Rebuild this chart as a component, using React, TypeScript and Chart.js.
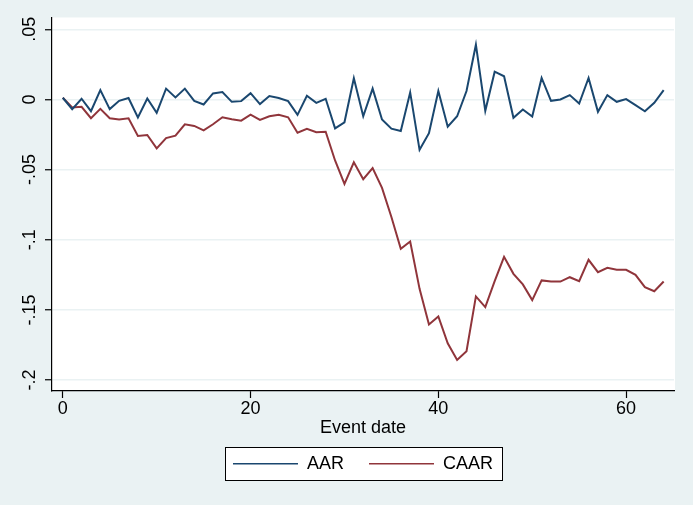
import { useEffect, useRef } from 'react'
import { Chart, registerables } from 'chart.js'

Chart.register(...registerables)

// event window, day 0..64
const eventDates = [
  0, 1, 2, 3, 4, 5, 6, 7, 8, 9, 10, 11, 12, 13, 14, 15, 16, 17, 18, 19, 20, 21,
  22, 23, 24, 25, 26, 27, 28, 29, 30, 31, 32, 33, 34, 35, 36, 37, 38, 39, 40, 41,
  42, 43, 44, 45, 46, 47, 48, 49, 50, 51, 52, 53, 54, 55, 56, 57, 58, 59, 60, 61,
  62, 63, 64,
]

const aar = [
  0.0012, -0.0069, 0.0005, -0.0084, 0.0067, -0.0069, -0.001, 0.001, -0.0129, 0.0007,
  -0.0096, 0.0077, 0.0014, 0.0077, -0.001, -0.0036, 0.0043, 0.0053, -0.0017, -0.0012,
  0.0045, -0.0033, 0.0024, 0.001, -0.0012, -0.011, 0.0026, -0.0024, 0.0005, -0.0206,
  -0.0163, 0.0151, -0.012, 0.0077, -0.0143, -0.0208, -0.0225, 0.005, -0.0359, -0.0241,
  0.006, -0.0194, -0.012, 0.006, 0.039, -0.0081, 0.0198, 0.0165, -0.0131, -0.0072,
  -0.0122, 0.0153, -0.001, 0.0, 0.0031, -0.0029, 0.0153, -0.0088, 0.0031, -0.0017,
  0.0002, -0.004, -0.0084, -0.0024, 0.0067,
]

const caar = [
  0.0012, -0.0057, -0.0053, -0.0134, -0.0067, -0.0134, -0.0143, -0.0134, -0.026, -0.0253,
  -0.0349, -0.0275, -0.0258, -0.0177, -0.0189, -0.022, -0.0177, -0.0127, -0.0141, -0.0151,
  -0.0108, -0.0146, -0.012, -0.011, -0.0127, -0.0237, -0.021, -0.0234, -0.023, -0.0435,
  -0.0602, -0.0448, -0.0568, -0.0489, -0.063, -0.0838, -0.1064, -0.1012, -0.135, -0.1604,
  -0.1547, -0.1738, -0.1857, -0.1795, -0.1404, -0.148, -0.1295, -0.1122, -0.1243, -0.1318,
  -0.143, -0.129, -0.1298, -0.1298, -0.1267, -0.1295, -0.1143, -0.1231, -0.12, -0.1214,
  -0.1214, -0.125, -0.1338, -0.1367, -0.1298,
]

const NAVY = '#1a476f'
const MAROON = '#90353b'
const BG = '#eaf2f3'
const FONT = '"Liberation Sans", Arial, sans-serif'
const FONT_SIZE = 18

// stata style numbers: .05, -.1, 0
const fmtStata = (v: number) => {
  if (Math.abs(v) < 1e-9) return '0'
  return v.toFixed(2).replace(/0+$/, '').replace('0.', '.')
}

const stataFrame = {
  id: 'stataFrame',
  beforeDraw(chart: Chart) {
    const { ctx, chartArea: a, width, height } = chart
    ctx.save()
    ctx.fillStyle = BG
    ctx.fillRect(0, 0, width, height)
    ctx.fillStyle = '#fff'
    ctx.fillRect(a.left, a.top, a.right - a.left + 1, a.bottom - a.top)

    // box around the legend
    const boxes = (chart.legend as any)?.legendHitBoxes
    if (boxes && boxes.length) {
      const first = boxes[0]
      const last = boxes[boxes.length - 1]
      const x1 = Math.round(first.left - 8) + 0.5
      const x2 = Math.round(last.left + last.width + 9) + 0.5
      const y1 = Math.round(first.top - 7.5) + 0.5
      const y2 = Math.round(first.top + first.height + 7.5) + 0.5
      ctx.fillStyle = '#fff'
      ctx.fillRect(x1, y1, x2 - x1, y2 - y1)
      ctx.strokeStyle = '#000'
      ctx.lineWidth = 1
      ctx.strokeRect(x1, y1, x2 - x1, y2 - y1)
    }
    ctx.restore()
  },
  afterDraw(chart: Chart) {
    // y labels are vertical in stata
    const { ctx, chartArea: a } = chart
    const y = chart.scales.y
    ctx.save()
    ctx.fillStyle = '#000'
    ctx.font = `${FONT_SIZE}px ${FONT}`
    ctx.textAlign = 'center'
    ctx.textBaseline = 'alphabetic'
    y.ticks.forEach((t) => {
      const py = y.getPixelForValue(t.value)
      ctx.save()
      ctx.translate(a.left - 17, py)
      ctx.rotate(-Math.PI / 2)
      ctx.fillText(fmtStata(t.value), 0, 0)
      ctx.restore()
    })
    ctx.restore()
  },
}

export default function App() {
  const canvasRef = useRef<HTMLCanvasElement>(null)
  const chartRef = useRef<Chart | null>(null)

  useEffect(() => {
    document.body.style.margin = '0'
    if (!canvasRef.current) return
    if (chartRef.current) chartRef.current.destroy()

    chartRef.current = new Chart(canvasRef.current, {
      type: 'line',
      data: {
        datasets: [
          {
            label: 'AAR',
            data: eventDates.map((d, i) => ({ x: d, y: aar[i] })),
            borderColor: NAVY,
            backgroundColor: NAVY,
            borderWidth: 2,
            pointRadius: 0,
            tension: 0,
          },
          {
            label: 'CAAR',
            data: eventDates.map((d, i) => ({ x: d, y: caar[i] })),
            borderColor: MAROON,
            backgroundColor: MAROON,
            borderWidth: 2,
            pointRadius: 0,
            tension: 0,
          },
        ],
      },
      options: {
        animation: false,
        responsive: true,
        maintainAspectRatio: false,
        layout: { padding: { left: 45, top: 17.5, right: 19, bottom: 22.3 } },
        plugins: {
          tooltip: { enabled: false },
          legend: {
            position: 'bottom',
            fullSize: false,
            labels: {
              usePointStyle: true,
              pointStyle: 'line',
              pointStyleWidth: 65,
              padding: 25,
              color: '#000',
              font: { family: FONT, size: FONT_SIZE },
              generateLabels: (c: Chart) =>
                Chart.defaults.plugins.legend.labels
                  .generateLabels(c)
                  .map((l: any) => ({ ...l, lineWidth: 1.5 })),
            },
          },
        },
        scales: {
          x: {
            type: 'linear',
            min: -1.15,
            max: 65.1,
            grid: {
              drawOnChartArea: false,
              drawTicks: true,
              tickLength: 7,
              tickColor: '#000',
              tickWidth: 1.2,
            },
            border: { display: true, color: '#000', width: 1.2 },
            ticks: {
              stepSize: 20,
              includeBounds: false,
              padding: 0.5,
              color: '#000',
              maxRotation: 0,
              font: { family: FONT, size: FONT_SIZE },
            },
            title: {
              display: true,
              text: 'Event date',
              color: '#000',
              font: { family: FONT, size: FONT_SIZE, lineHeight: 1 },
              padding: { top: -2, bottom: -6.9 },
            },
          },
          y: {
            min: -0.2078,
            max: 0.0584,
            grid: {
              color: BG,
              lineWidth: 1.5,
              drawTicks: true,
              tickLength: 7,
              tickColor: '#000',
              tickWidth: 1.2,
            },
            border: { display: true, color: '#000', width: 1.2 },
            ticks: { display: false, stepSize: 0.05, includeBounds: false },
          },
        },
      },
      plugins: [stataFrame],
    })

    return () => {
      chartRef.current?.destroy()
      chartRef.current = null
    }
  }, [])

  return (
    <div style={{ position: 'relative', width: 693, height: 505, background: BG }}>
      <canvas ref={canvasRef} />
    </div>
  )
}
